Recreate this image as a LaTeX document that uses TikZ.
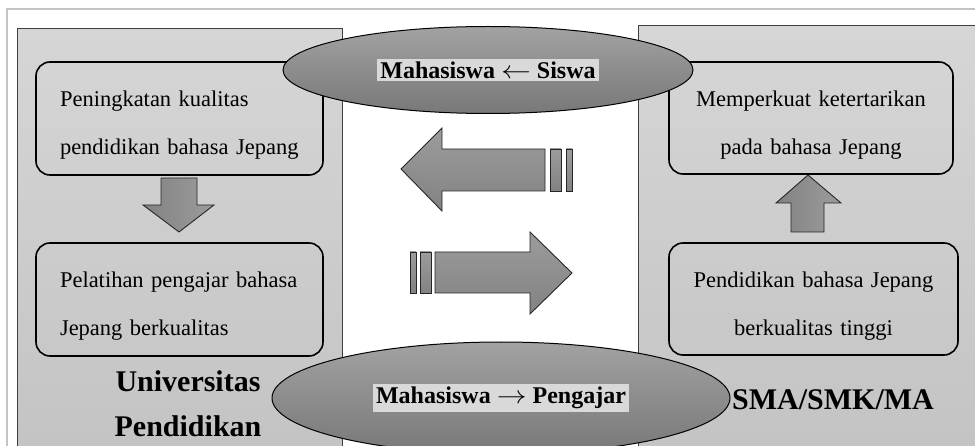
\documentclass[tikz,border=0pt]{standalone}
\usepackage{fontspec}
\setmainfont{Liberation Serif}
\usetikzlibrary{shapes.geometric}
\definecolor{panelTop}{HTML}{D6D6D6}
\definecolor{panelBot}{HTML}{C3C3C3}
\definecolor{frameGray}{HTML}{C4C4C4}
\definecolor{panelEdge}{HTML}{404040}
\definecolor{ellTop}{HTML}{A2A2A2}
\definecolor{ellBot}{HTML}{787878}
\definecolor{arrA}{HTML}{9C9C9C}
\definecolor{arrB}{HTML}{828282}
\definecolor{labelBg}{HTML}{D9D9D9}
\newcommand{\topstrut}{\rule{0pt}{29pt}}
\newcommand{\ovaltextfont}{\bfseries\fontsize{24}{28}\selectfont}
\newcommand{\larr}{\scalebox{1.2}[1]{$\leftarrow$}}
\newcommand{\rarr}{\scalebox{1.2}[1]{$\rightarrow$}}
\begin{document}
\begin{tikzpicture}[x=1pt,y=-1pt,
  panel/.style={draw=panelEdge, line width=1pt, top color=panelTop, bottom color=panelBot},
  box/.style={draw=black, line width=1.6pt, rounded corners=14pt, inner xsep=24pt, inner ysep=0pt,
    font=\fontsize{22.5}{48}\selectfont},
  blockarrowV/.style={draw=black!85, line width=0.9pt, left color=arrB, right color=arrA},
  blockarrowH/.style={draw=black!85, line width=0.9pt, top color=arrA, bottom color=arrB},
  oval/.style={ellipse, draw=black, line width=1pt, top color=ellTop, bottom color=ellBot, inner sep=0pt},
  bigtitle/.style={font=\bfseries\fontsize{30}{45}\selectfont, align=center}
]
\useasboundingbox (0,0) rectangle (975,446);
% outer frame
\draw[frameGray, line width=1.5pt] (7,460) -- (7,9) -- (990,9);
% panels
\path[panel] (17,460) rectangle (342,29);
\path[panel] (638,460) rectangle (990,26);
% boxes
\node[box, minimum width=287pt, minimum height=113pt, text width=239pt, align=left] (lt) at (179.5,118.5)
  {\topstrut Peningkatan kualitas\\pendidikan bahasa Jepang};
\node[box, minimum width=287pt, minimum height=113pt, text width=239pt, align=left] (lb) at (179.5,299.5)
  {\topstrut Pelatihan pengajar bahasa\\Jepang berkualitas};
\node[box, minimum width=284pt, minimum height=112pt, text width=236pt, align=center] (rt) at (811,118)
  {\topstrut Memperkuat ketertarikan\\pada bahasa Jepang};
\node[box, minimum width=289pt, minimum height=112pt, text width=241pt, align=center] (rb) at (813.5,299)
  {\topstrut Pendidikan bahasa Jepang\\berkualitas tinggi};
% down arrow (left panel)
\path[blockarrowV] (161,178) -- (197,178) -- (197,205) -- (214,205) -- (179,232) -- (143,205) -- (161,205) -- cycle;
% up arrow (right panel)
\path[blockarrowV] (791,232) -- (824,232) -- (824,203) -- (841,203) -- (808,175) -- (776,203) -- (791,203) -- cycle;
% left-pointing arrow
\path[blockarrowH] (545,149) -- (442,149) -- (442,128) -- (401,169) -- (442,211) -- (442,191) -- (545,191) -- cycle;
\path[blockarrowH] (550,149) rectangle (561,191);
\path[blockarrowH] (566,149) rectangle (572,191);
% right-pointing arrow
\path[blockarrowH] (435,252) -- (530,252) -- (530,232) -- (572,273) -- (530,314) -- (530,293) -- (435,293) -- cycle;
\path[blockarrowH] (420,252) rectangle (431,293);
\path[blockarrowH] (410,252) rectangle (416,293);
% ellipses
\node[oval, minimum width=410pt, minimum height=87pt] (top) at (488,70)
  {\colorbox{labelBg}{\ovaltextfont Mahasiswa \larr{} Siswa}};
\node[oval, minimum width=458pt, minimum height=112pt] (bot) at (501,398)
  {\colorbox{labelBg}{\ovaltextfont Mahasiswa \rarr{} Pengajar}};
% titles
\node[bigtitle] (univ) at (188,404) {Universitas\\Pendidikan};
\node[bigtitle] (sma) at (833,400) {SMA/SMK/MA};
\end{tikzpicture}
\end{document}
